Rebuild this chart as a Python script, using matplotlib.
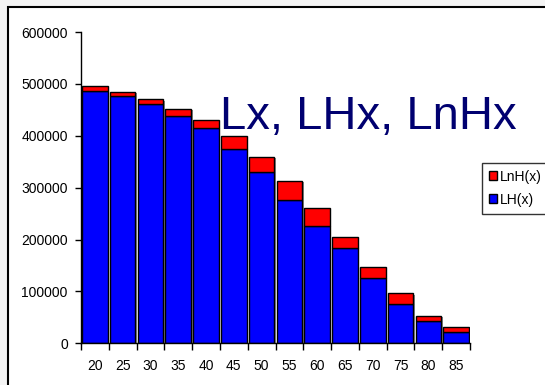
import matplotlib
matplotlib.use("Agg")
import matplotlib.pyplot as plt
from matplotlib.patches import Rectangle
from matplotlib.transforms import ScaledTranslation

plt.rcParams['font.family'] = ['Liberation Sans', 'DejaVu Sans']

# Age groups and person-years lived (healthy / not healthy)
ages = [20, 25, 30, 35, 40, 45, 50, 55, 60, 65, 70, 75, 80, 85]
lh = [487000, 476000, 461000, 438000, 415000, 375000, 331000,
      276000, 226000, 184000, 125000, 76500, 43700, 21200]
lnh = [8500, 9300, 9700, 14500, 15500, 25000, 29000,
       37000, 34700, 20000, 22000, 20000, 9000, 9700]
y_ticks = [0, 100000, 200000, 300000, 400000, 500000, 600000]

fig = plt.figure(figsize=(5.45, 3.85), dpi=100)
fig.patch.set_facecolor('#f4f4f4')
# white chart area with a dark frame on top and left
fig.patches.append(Rectangle((7.5 / 545, -0.05), 1.1, 1 - 7 / 385 + 0.05,
                             transform=fig.transFigure, facecolor='white',
                             edgecolor='black', linewidth=1.5, zorder=-5))

ax = fig.add_axes([81 / 545, 1 - 343.3 / 385, (470 - 81) / 545, (343.3 - 32) / 385])
ax.set_facecolor('none')

x = list(range(len(ages)))
totals = [a + b for a, b in zip(lh, lnh)]
w = 0.92

# soft shadow behind each column
shadow = ax.transData + ScaledTranslation(1.5 / 100, -1.5 / 100, fig.dpi_scale_trans)
ax.bar(x, totals, width=w, color='#8c8c8c', linewidth=0, transform=shadow, zorder=1)

ax.bar(x, lh, width=w, color='#0000ff', edgecolor='black', linewidth=1.0,
       label='LH(x)', zorder=2)
ax.bar(x, lnh, width=w, bottom=lh, color='#ff0000', edgecolor='black',
       linewidth=1.0, label='LnH(x)', zorder=2)

ax.set_xlim(-0.5, len(ages) - 0.5)
ax.set_ylim(0, 600000)
ax.set_yticks(y_ticks)
ax.set_yticklabels([str(v) for v in y_ticks])
ax.set_xticks([i - 0.5 for i in range(len(ages) + 1)])
ax.set_xticklabels([])
ax.set_xticks(x, minor=True)
ax.set_xticklabels([str(a) for a in ages], minor=True)
ax.tick_params(axis='x', which='minor', length=0, labelsize=10, pad=11)
ax.tick_params(axis='x', which='major', direction='out', length=5, width=1)
ax.tick_params(axis='y', direction='out', length=4.5, width=1, labelsize=10, pad=5)

for s in ['top', 'right']:
    ax.spines[s].set_visible(False)
for s in ['left', 'bottom']:
    ax.spines[s].set_linewidth(1.0)
    ax.spines[s].set_color('black')

fig.text(220 / 545, 1 - 129 / 385, 'Lx, LHx, LnHx', fontsize=34,
         color='#000070', ha='left', va='baseline')

handles, labels = ax.get_legend_handles_labels()
leg = fig.legend(handles[::-1], labels[::-1], loc='upper left',
                 bbox_to_anchor=(481.7 / 545, 1 - 162.7 / 385),
                 fontsize=10, frameon=True, fancybox=False,
                 handlelength=0.6, handleheight=0.6, handletextpad=0.2,
                 borderpad=0.5, borderaxespad=0, labelspacing=0.65)
leg._legend_box.align = 'left'
leg.get_frame().set_edgecolor('black')
leg.get_frame().set_linewidth(1.0)

fig.savefig('out.png', dpi=100)
